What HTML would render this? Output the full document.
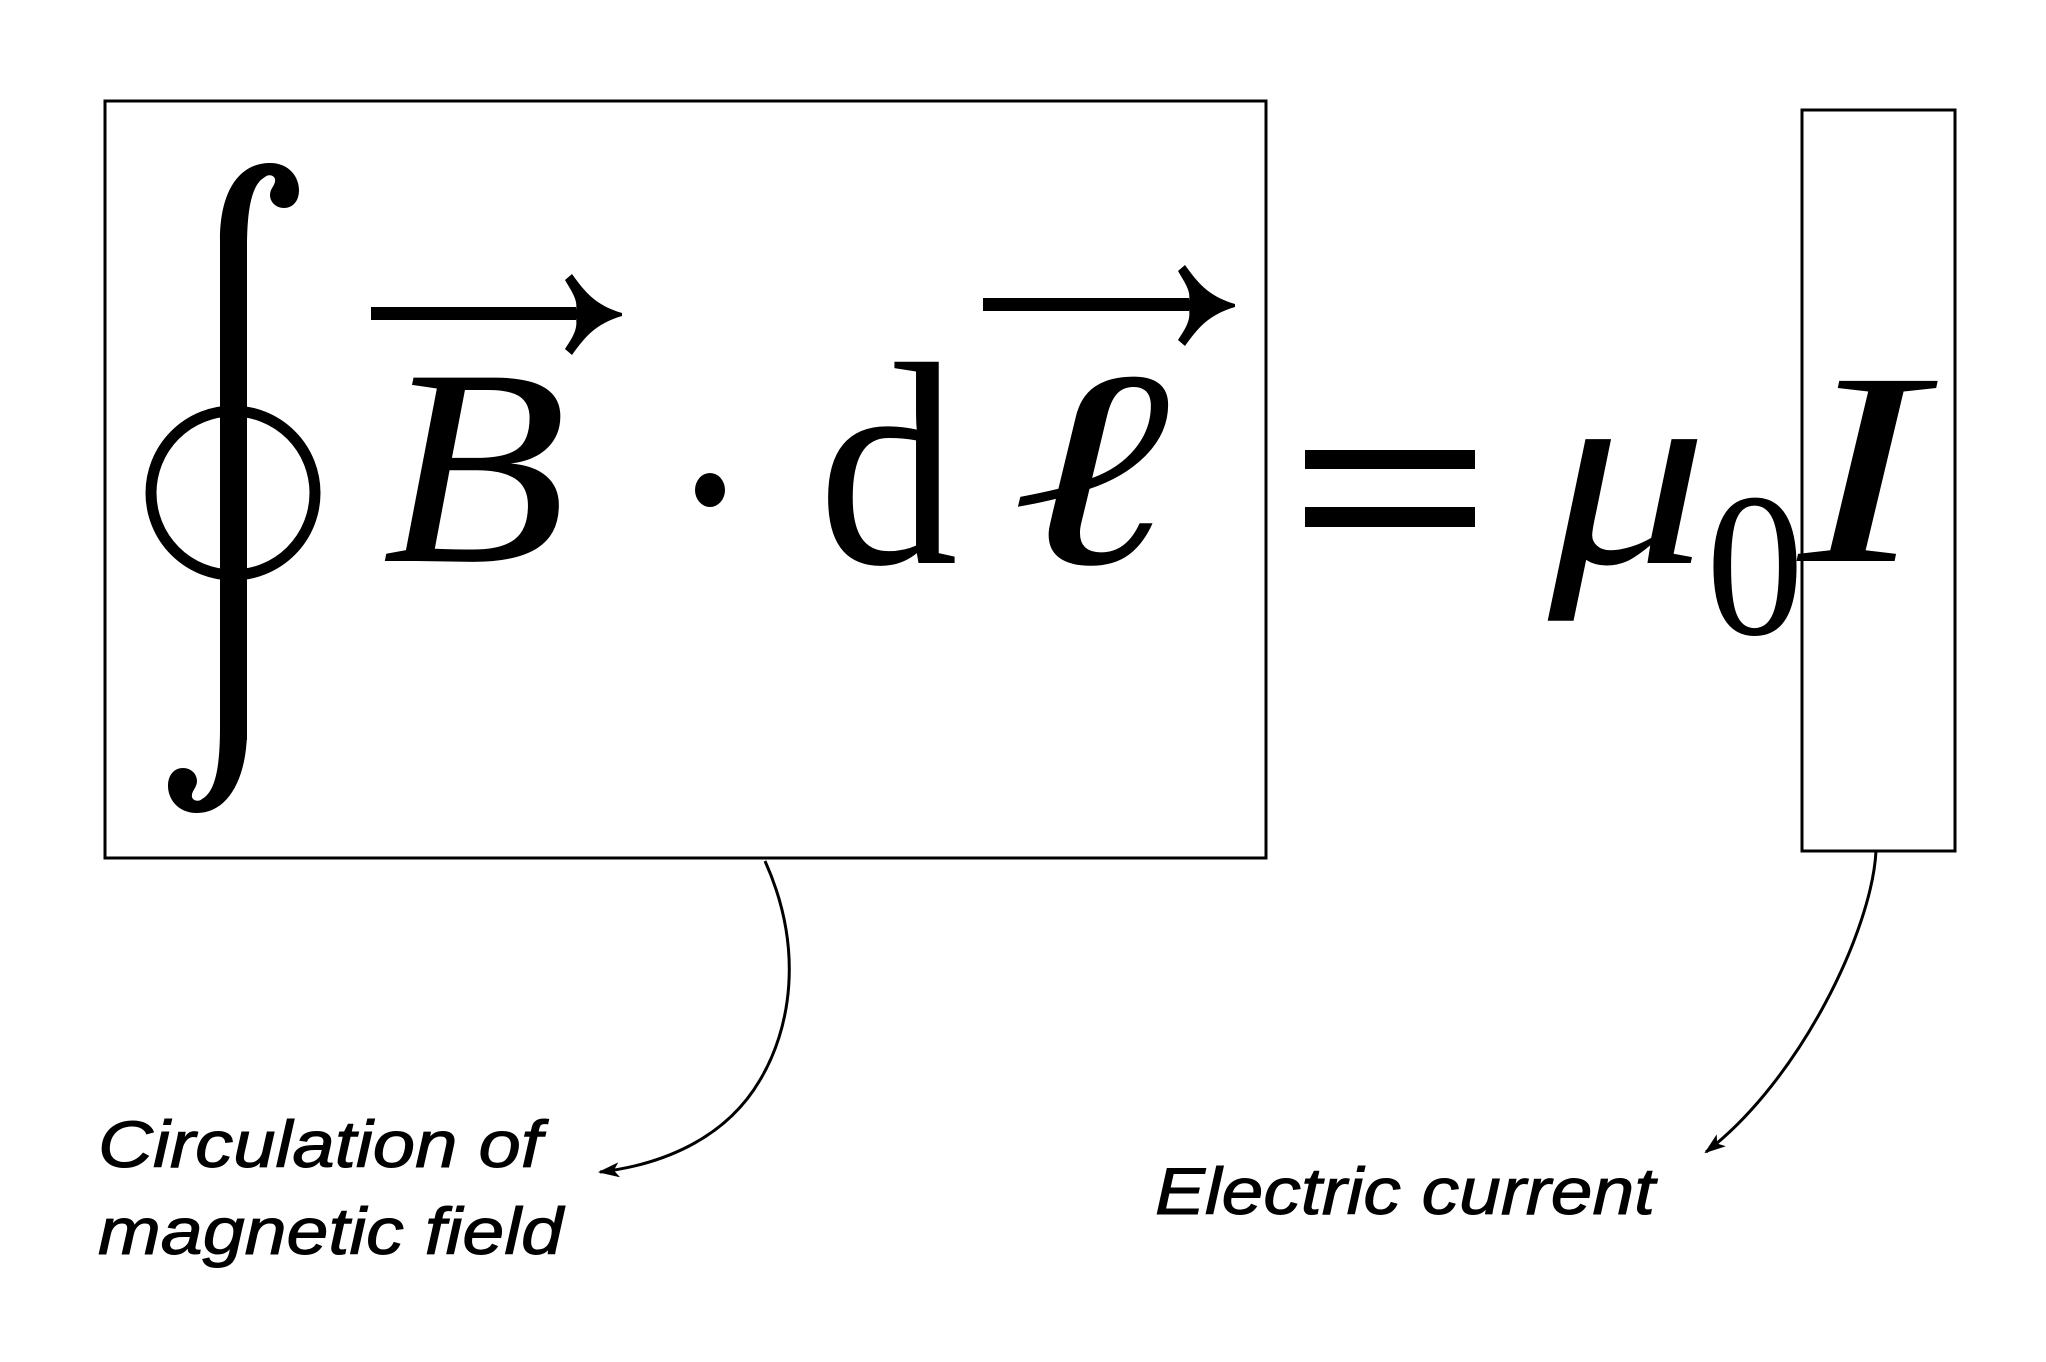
<!DOCTYPE html>
<html><head><meta charset="utf-8"><style>
html,body{margin:0;padding:0;background:#fff;}
svg{display:block;}
</style></head><body>
<svg width="2046" height="1362" viewBox="0 0 2046 1362" xmlns="http://www.w3.org/2000/svg">
<defs>
<marker id="ah2" viewBox="0 0 20 14" markerWidth="22" markerHeight="15" refX="18" refY="7" orient="auto" markerUnits="userSpaceOnUse">
<path d="M0,0 L20,7 L0,14 L5,7 Z" fill="#000"/>
</marker>
</defs>
<!-- boxes -->
<rect x="105" y="101" width="1161" height="757" fill="none" stroke="#000" stroke-width="3"/>
<rect x="1802" y="110" width="153" height="741" fill="none" stroke="#000" stroke-width="3"/>

<!-- contour integral -->
<rect x="220" y="235" width="27" height="505" fill="#000"/>
<path d="M220,240 C220,190 240,163 270,163 C290,163 299,178 299,190 C299,202 292,208 284,208 C276,208 270,202 270,195 C270,188 276,185 275,179 C274,175 268,174 265,177 C250,185 247,215 247,250 Z" fill="#000"/>
<path d="M247,730 C247,780 227,813 197,813 C177,813 168,798 168,786 C168,774 175,768 183,768 C191,768 197,774 197,781 C197,788 191,791 192,797 C193,801 199,802 202,799 C217,791 220,761 220,726 Z" fill="#000"/>
<ellipse cx="233" cy="493" rx="82" ry="82" fill="none" stroke="#000" stroke-width="11"/>

<!-- B with arrow -->
<text x="382" y="561" font-family="Liberation Serif, serif" font-style="italic" font-size="280" textLength="185" lengthAdjust="spacingAndGlyphs">B</text>
<rect x="371" y="307" width="205" height="13" fill="#000"/>
<path d="M565,280 L572,274 C585,292 595,305 622,313 L622,316 C595,324 585,337 572,355 L565,349 C572,338 578,330 576,318 L576,310 C578,300 572,292 565,280 Z" fill="#000"/>

<!-- dot -->
<ellipse cx="710" cy="490" rx="15" ry="17" fill="#000"/>

<!-- d -->
<text x="818" y="563" font-family="Liberation Serif, serif" font-size="290" textLength="140" lengthAdjust="spacingAndGlyphs">d</text>

<!-- ell with arrow -->
<text x="1010" y="563" font-family="Liberation Serif, DejaVu Serif, serif" font-style="italic" font-size="280" textLength="160" lengthAdjust="spacingAndGlyphs">ℓ</text>
<rect x="983" y="298" width="206" height="13" fill="#000"/>
<path d="M1178,271 L1185,265 C1198,283 1208,296 1235,304 L1235,307 C1208,315 1198,328 1185,346 L1178,340 C1185,329 1191,321 1189,309 L1189,301 C1191,291 1185,283 1178,271 Z" fill="#000"/>

<!-- equals -->
<rect x="1305" y="450" width="170" height="19" fill="#000"/>
<rect x="1305" y="507" width="170" height="20" fill="#000"/>

<!-- mu_0 I -->
<text x="1548" y="563" font-family="Liberation Serif, serif" font-style="italic" font-size="270" textLength="160" lengthAdjust="spacingAndGlyphs">μ</text>
<text x="1706" y="634" font-family="Liberation Serif, serif" font-size="205" textLength="98" lengthAdjust="spacingAndGlyphs">0</text>
<text x="1798" y="561" font-family="Liberation Serif, serif" font-style="italic" font-size="275" textLength="125" lengthAdjust="spacingAndGlyphs">I</text>

<!-- connectors -->
<path d="M765,861 C805,950 790,1030 760,1080 C725,1140 660,1165 600,1172" fill="none" stroke="#000" stroke-width="3" marker-end="url(#ah2)"/>
<path d="M1876,851 C1872,930 1800,1080 1706,1152" fill="none" stroke="#000" stroke-width="3" marker-end="url(#ah2)"/>

<!-- labels -->
<g font-family="Liberation Sans, Arial, sans-serif" font-style="italic" font-size="66" fill="#000" stroke="#000" stroke-width="1">
<text x="98" y="1167" textLength="444" lengthAdjust="spacingAndGlyphs">Circulation of</text>
<text x="98" y="1254" textLength="465" lengthAdjust="spacingAndGlyphs">magnetic field</text>
<text x="1155" y="1214" textLength="500" lengthAdjust="spacingAndGlyphs">Electric current</text>
</g>
</svg>
</body></html>
